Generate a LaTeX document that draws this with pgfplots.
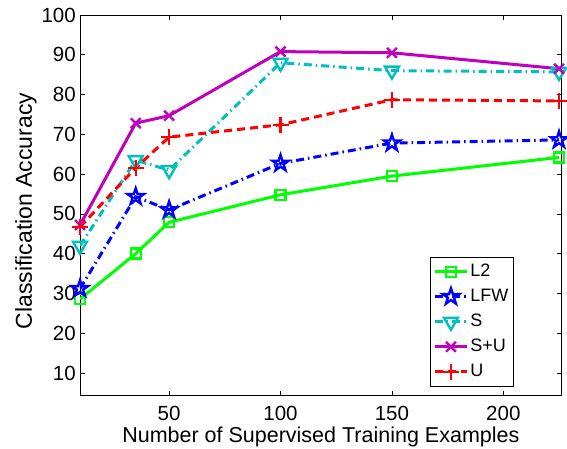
\documentclass[border=0pt]{standalone}
\usepackage{pgfplots}
\pgfplotsset{compat=1.18}
\usepackage{fontspec}
\setmainfont{Liberation Sans}
\definecolor{mgreen}{rgb}{0,1,0}
\definecolor{mblue}{rgb}{0,0,1}
\definecolor{mcyan}{rgb}{0,0.75,0.75}
\definecolor{mmag}{rgb}{0.75,0,0.75}
\definecolor{mred}{rgb}{1,0,0}
\pgfdeclareplotmark{pentagram}{%
  \pgfpathmoveto{\pgfpointpolar{90}{\pgfplotmarksize}}%
  \pgfpathlineto{\pgfpointpolar{126}{0.382\pgfplotmarksize}}%
  \pgfpathlineto{\pgfpointpolar{162}{\pgfplotmarksize}}%
  \pgfpathlineto{\pgfpointpolar{198}{0.382\pgfplotmarksize}}%
  \pgfpathlineto{\pgfpointpolar{234}{\pgfplotmarksize}}%
  \pgfpathlineto{\pgfpointpolar{270}{0.382\pgfplotmarksize}}%
  \pgfpathlineto{\pgfpointpolar{306}{\pgfplotmarksize}}%
  \pgfpathlineto{\pgfpointpolar{342}{0.382\pgfplotmarksize}}%
  \pgfpathlineto{\pgfpointpolar{18}{\pgfplotmarksize}}%
  \pgfpathlineto{\pgfpointpolar{54}{0.382\pgfplotmarksize}}%
  \pgfpathclose
  \pgfusepathqstroke
}
\begin{document}
\begin{tikzpicture}
\begin{axis}[
  name=ax,
  scale only axis,
  width=481.7pt, height=380.7pt,
  xmin=10, xmax=226.2, ymin=4.3, ymax=100,
  xtick={50,100,150,200},
  ytick={10,20,30,40,50,60,70,80,90,100},
  tick align=inside,
  major tick length=5pt,
  axis line style={line width=0.9pt},
  every tick/.style={black, line width=0.6pt},
  /pgf/number format/assume math mode=true,
  tick label style={font=\fontsize{20.5}{22}\selectfont},
  yticklabel style={inner sep=0pt, xshift=-4pt},
  xticklabel style={anchor=base, inner sep=0pt, yshift=-24.3pt},
  xlabel={Number of Supervised Training Examples},
  ylabel={Classification Accuracy},
  xlabel style={font=\fontsize{21.5}{24}\selectfont, at={(axis description cs:0.5,-0.1235)}, anchor=base, inner sep=0pt},
  ylabel style={font=\fontsize{23}{26}\selectfont, at={(axis description cs:-0.112,0.485)}, anchor=center, inner sep=0pt},
  legend cell align=left,
  legend style={at={(0.7266,0.0236)}, anchor=south west, draw=black, line width=0.9pt,
    font=\fontsize{18}{20}\selectfont, row sep=4pt, inner xsep=3pt, inner ysep=4pt,
    nodes={text height=13pt, text depth=4pt, inner sep=2pt}},
  legend image code/.code={\draw[mark repeat=2,mark phase=2] plot coordinates {(0pt,0pt) (16pt,0pt) (32pt,0pt)};},
]
\addplot[color=mgreen, line width=3pt, solid, mark=square, mark size=5pt, mark options={solid, line width=2.4pt}]
  coordinates {(10,28.6) (35,40) (50,47.9) (100,54.8) (150,59.5) (225,64.2)};
\addlegendentry{L2}
\addplot[color=mblue, line width=3pt, dash pattern=on 8pt off 4pt on 1.5pt off 4pt, mark=pentagram, mark size=8.5pt, mark options={solid, line width=2.4pt}]
  coordinates {(10,31.2) (35,54.3) (50,51) (100,62.7) (150,67.8) (225,68.6)};
\addlegendentry{LFW}
\addplot[color=mcyan, line width=3pt, dash pattern=on 8pt off 4pt on 1.5pt off 4pt, mark=triangle, mark size=8pt, mark options={solid, rotate=180, line width=2.4pt}]
  coordinates {(10,42) (35,63.5) (50,61) (100,88) (150,86) (225,85.7)};
\addlegendentry{S}
\addplot[color=mmag, line width=3pt, solid, mark=x, mark size=7pt, mark options={solid, line width=2.4pt}]
  coordinates {(10,47.2) (35,72.8) (50,74.7) (100,90.8) (150,90.5) (225,86.5)};
\addlegendentry{S+U}
\addplot[color=mred, line width=3pt, dash pattern=on 8pt off 5pt, mark=+, mark size=8pt, mark options={solid, line width=2.4pt}]
  coordinates {(10,46.7) (35,61.6) (50,69.3) (100,72.4) (150,78.7) (225,78.4)};
\addlegendentry{U}
\end{axis}
\pgfresetboundingbox
\useasboundingbox ([xshift=-80pt,yshift=-52.3pt]ax.south west) rectangle ([xshift=5.3pt,yshift=15pt]ax.north east);
\end{tikzpicture}
\end{document}
